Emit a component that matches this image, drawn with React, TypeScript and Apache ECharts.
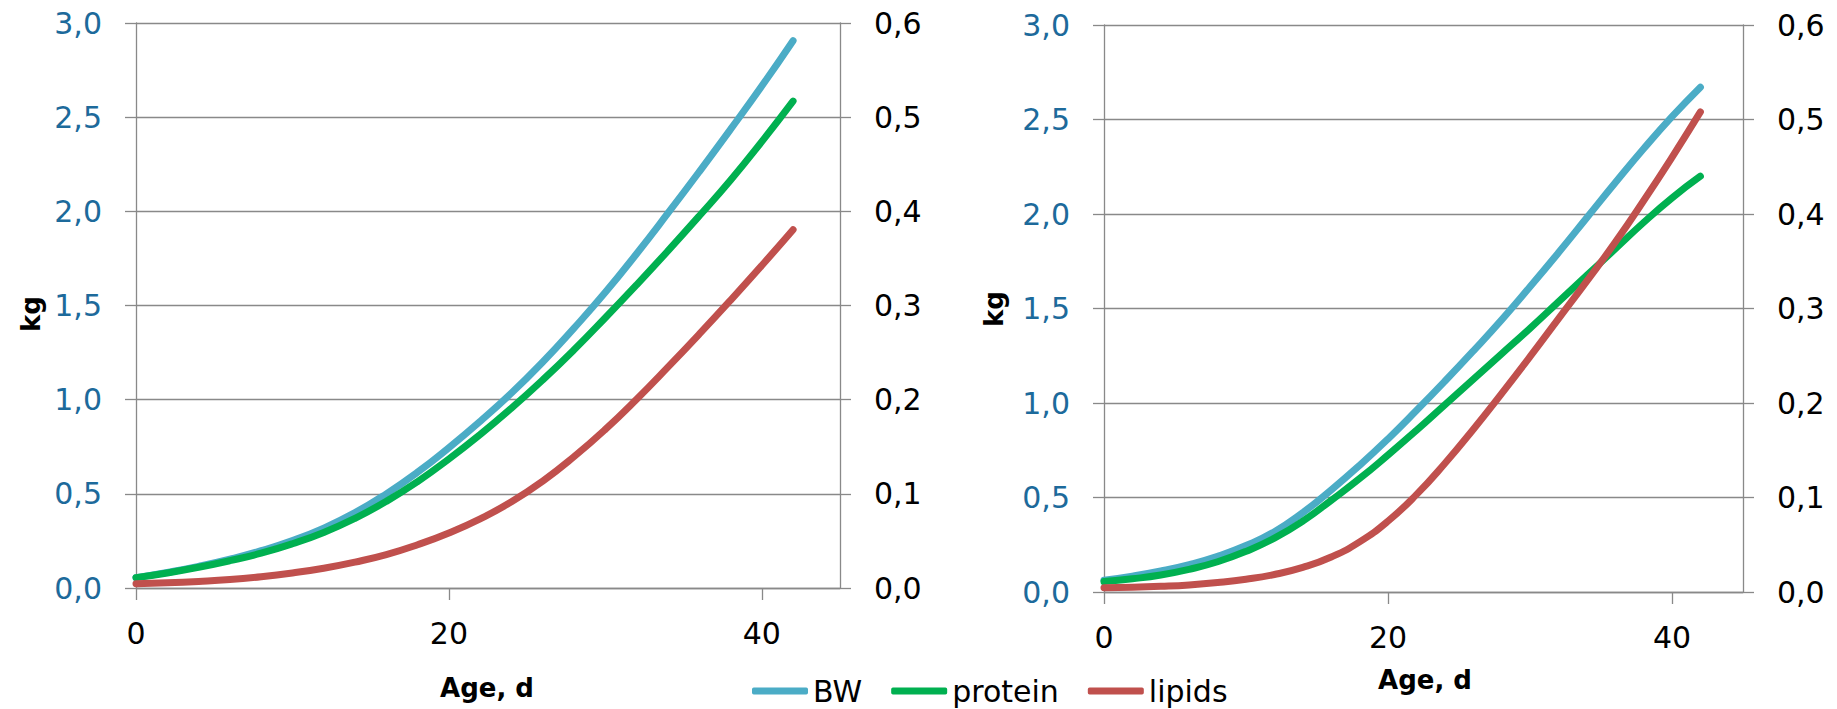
import React, { useEffect, useRef } from "react";
import * as echarts from "echarts";

const days = [0, 2, 4, 6, 8, 10, 12, 14, 16, 18, 20, 22, 24, 26, 28, 30, 32, 34, 36, 38, 40, 42];

// Left panel (BW on the kg axis, protein / lipids on the secondary axis)
const bwLeft = [0.055, 0.083, 0.115, 0.153, 0.198, 0.252, 0.318, 0.4, 0.5, 0.615, 0.745, 0.885, 1.035, 1.2, 1.38, 1.57, 1.775, 1.99, 2.21, 2.435, 2.665, 2.906];
const proteinLeft = [0.011, 0.016, 0.022, 0.029, 0.037, 0.047, 0.059, 0.074, 0.092, 0.113, 0.137, 0.163, 0.191, 0.221, 0.253, 0.287, 0.322, 0.358, 0.395, 0.433, 0.474, 0.517];
const lipidsLeft = [0.0045, 0.0055, 0.007, 0.009, 0.012, 0.016, 0.021, 0.0275, 0.0355, 0.046, 0.0585, 0.0735, 0.0915, 0.1135, 0.1395, 0.1685, 0.2005, 0.2345, 0.2695, 0.3055, 0.3425, 0.3805];

// Right panel
const bwRight = [0.062, 0.084, 0.111, 0.145, 0.189, 0.246, 0.319, 0.42, 0.54, 0.67, 0.81, 0.96, 1.115, 1.275, 1.44, 1.615, 1.795, 1.98, 2.165, 2.345, 2.515, 2.671];
const proteinRight = [0.011, 0.014, 0.018, 0.024, 0.032, 0.043, 0.057, 0.075, 0.097, 0.12, 0.145, 0.171, 0.198, 0.225, 0.252, 0.279, 0.307, 0.335, 0.363, 0.391, 0.417, 0.44];
const lipidsRight = [0.0045, 0.005, 0.006, 0.0075, 0.01, 0.0135, 0.0185, 0.026, 0.037, 0.053, 0.075, 0.103, 0.136, 0.172, 0.21, 0.249, 0.289, 0.329, 0.37, 0.414, 0.46, 0.508];

const xTicks = [0, 20, 40];
const seriesNames = ["BW", "protein", "lipids"];
const colors = ["#4BACC6", "#00B050", "#C0504D"];

const FONT = "DejaVu Sans";
const GRID_COLOR = "#898989";
const KG_COLOR = "#1D6A9B";

const comma = (v: number) => v.toFixed(1).replace(".", ",");

function App() {
  const ref = useRef<HTMLDivElement>(null);

  useEffect(() => {
    if (!ref.current) return;
    const chart = echarts.init(ref.current, null, { renderer: "svg" });

    const pair = (arr: number[]) => days.map((d, i) => [d, arr[i]]);

    const xAxisDef = (gridIndex: number) => ({
      gridIndex,
      type: "value",
      min: 0,
      max: 45,
      interval: 20,
      axisLine: { show: true, lineStyle: { color: GRID_COLOR, width: 1.3 } },
      axisTick: { show: true, length: 12, customValues: xTicks, lineStyle: { color: GRID_COLOR, width: 1.3 } },
      axisLabel: { customValues: xTicks, color: "#000", fontSize: 30, fontFamily: FONT, margin: 30 },
      splitLine: { show: false },
    });

    const yKg = (gridIndex: number) => ({
      gridIndex,
      type: "value",
      position: "left",
      min: 0,
      max: 3,
      interval: 0.5,
      axisLine: { show: true, lineStyle: { color: GRID_COLOR, width: 1.3 } },
      axisTick: { show: true, length: 11, lineStyle: { color: GRID_COLOR, width: 1.3 } },
      axisLabel: { formatter: comma, color: KG_COLOR, fontSize: 30, fontFamily: FONT, margin: 34 },
      splitLine: { show: true, lineStyle: { color: GRID_COLOR, width: 1.3 } },
    });

    const ySec = (gridIndex: number) => ({
      gridIndex,
      type: "value",
      position: "right",
      min: 0,
      max: 0.6,
      interval: 0.1,
      axisLine: { show: true, lineStyle: { color: GRID_COLOR, width: 1.3 } },
      axisTick: { show: true, length: 11, lineStyle: { color: GRID_COLOR, width: 1.3 } },
      axisLabel: { formatter: comma, color: "#000", fontSize: 30, fontFamily: FONT, margin: 34 },
      splitLine: { show: false },
    });

    const line = (name: string, color: string, data: number[], xi: number, yi: number) => ({
      type: "line",
      name,
      xAxisIndex: xi,
      yAxisIndex: yi,
      data: pair(data),
      smooth: 0.5,
      showSymbol: false,
      symbol: "none",
      lineStyle: { width: 7, color, cap: "round", join: "round" },
      itemStyle: { color },
    });

    chart.setOption({
      animation: false,
      backgroundColor: "#fff",
      grid: [
        { left: 136, top: 23, width: 704, height: 565 },
        { left: 1104, top: 25, width: 639, height: 567 },
      ],
      xAxis: [xAxisDef(0), xAxisDef(1)],
      yAxis: [yKg(0), ySec(0), yKg(1), ySec(1)],
      legend: {
        data: seriesNames,
        left: 747,
        top: 671,
        icon: "roundRect",
        itemWidth: 56,
        itemHeight: 7,
        itemGap: 29,
        textStyle: { fontSize: 30, fontFamily: FONT, color: "#000" },
      },
      graphic: [
        {
          type: "text",
          x: 31,
          y: 314,
          rotation: Math.PI / 2,
          style: { text: "kg", fontSize: 26, fontWeight: "bold", fontFamily: FONT, fill: "#000", textAlign: "center", textVerticalAlign: "middle" },
        },
        {
          type: "text",
          x: 994,
          y: 309,
          rotation: Math.PI / 2,
          style: { text: "kg", fontSize: 26, fontWeight: "bold", fontFamily: FONT, fill: "#000", textAlign: "center", textVerticalAlign: "middle" },
        },
        {
          type: "text",
          x: 487,
          y: 688,
          style: { text: "Age, d", fontSize: 26, fontWeight: "bold", fontFamily: FONT, fill: "#000", textAlign: "center", textVerticalAlign: "middle" },
        },
        {
          type: "text",
          x: 1425,
          y: 680,
          style: { text: "Age, d", fontSize: 26, fontWeight: "bold", fontFamily: FONT, fill: "#000", textAlign: "center", textVerticalAlign: "middle" },
        },
      ],
      series: [
        line("BW", colors[0], bwLeft, 0, 0),
        line("protein", colors[1], proteinLeft, 0, 1),
        line("lipids", colors[2], lipidsLeft, 0, 1),
        line("BW", colors[0], bwRight, 1, 2),
        line("protein", colors[1], proteinRight, 1, 3),
        line("lipids", colors[2], lipidsRight, 1, 3),
      ],
    });

    return () => chart.dispose();
  }, []);

  return (
    <div
      ref={ref}
      style={{ position: "absolute", left: 0, top: 0, width: 1837, height: 709, background: "#fff" }}
    />
  );
}

export default App;
